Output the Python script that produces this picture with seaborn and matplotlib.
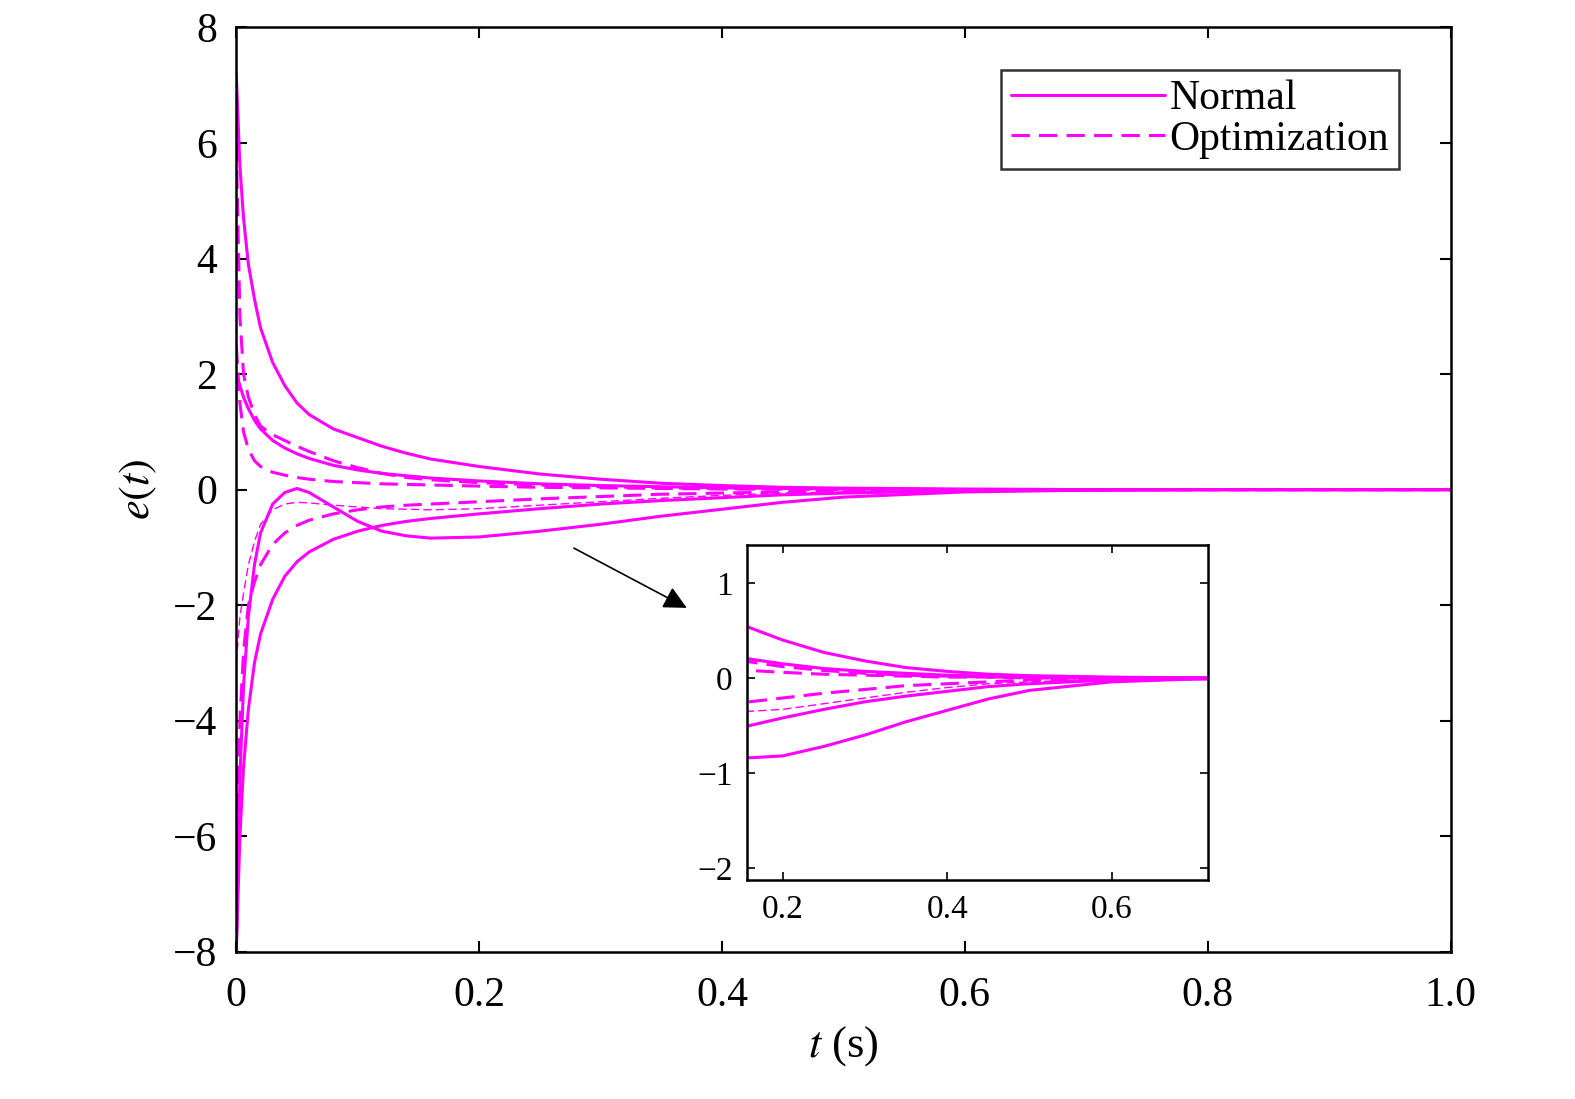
import matplotlib
matplotlib.use('Agg')
import matplotlib.pyplot as plt
import pandas as pd
import seaborn as sns
from matplotlib.lines import Line2D

# time samples (s) and hand-read error curves
t = [0, 0.003, 0.006, 0.01, 0.015, 0.02, 0.03, 0.04, 0.05, 0.06, 0.08, 0.1, 0.12, 0.14,
     0.16, 0.2, 0.25, 0.3, 0.35, 0.4, 0.45, 0.5, 0.6, 0.7, 0.8, 1.0]

normal_1 = [7.2, 5.6, 4.7, 3.9, 3.3, 2.8, 2.2, 1.8, 1.5, 1.3, 1.05, 0.9, 0.75, 0.63,
            0.53, 0.4, 0.27, 0.18, 0.11, 0.07, 0.04, 0.025, 0.01, 0.0, 0.0, 0.0]
normal_2 = [2.0, 1.8, 1.6, 1.4, 1.2, 1.05, 0.85, 0.72, 0.62, 0.54, 0.42, 0.34, 0.28, 0.24,
            0.2, 0.15, 0.1, 0.07, 0.05, 0.03, 0.02, 0.01, 0.0, 0.0, 0.0, 0.0]
normal_3 = [-8.0, -5.0, -3.4, -2.2, -1.3, -0.75, -0.25, -0.05, 0.02, -0.05, -0.3, -0.55, -0.72, -0.8,
            -0.84, -0.82, -0.72, -0.6, -0.46, -0.34, -0.22, -0.13, -0.04, -0.01, 0.0, 0.0]
normal_4 = [-8.0, -6.0, -4.8, -3.8, -3.0, -2.5, -1.9, -1.5, -1.25, -1.08, -0.86, -0.72, -0.62, -0.55,
            -0.5, -0.42, -0.33, -0.25, -0.19, -0.14, -0.09, -0.06, -0.02, -0.01, 0.0, 0.0]

opt_1 = [6.0, 3.0, 2.0, 1.6, 1.3, 1.1, 0.95, 0.85, 0.75, 0.66, 0.5, 0.38, 0.28, 0.21,
         0.17, 0.12, 0.08, 0.05, 0.03, 0.02, 0.01, 0.01, 0.0, 0.0, 0.0, 0.0]
opt_2 = [2.5, 1.5, 1.0, 0.7, 0.5, 0.4, 0.3, 0.25, 0.21, 0.18, 0.14, 0.12, 0.1, 0.09,
         0.08, 0.06, 0.04, 0.03, 0.02, 0.01, 0.01, 0.0, 0.0, 0.0, 0.0, 0.0]
opt_3 = [-7.0, -4.0, -2.8, -2.0, -1.6, -1.3, -0.95, -0.75, -0.62, -0.53, -0.42, -0.35, -0.3, -0.27,
         -0.25, -0.21, -0.16, -0.12, -0.08, -0.06, -0.04, -0.02, -0.01, 0.0, 0.0, 0.0]
opt_4 = [-3.0, -2.2, -1.8, -1.3, -0.9, -0.6, -0.35, -0.25, -0.22, -0.23, -0.27, -0.3, -0.33, -0.34,
         -0.35, -0.33, -0.27, -0.21, -0.15, -0.1, -0.06, -0.04, -0.01, 0.0, 0.0, 0.0]

MAGENTA = '#ff00ff'
series = [
    (normal_1, '-', 2.2), (normal_2, '-', 2.2), (normal_3, '-', 2.2), (normal_4, '-', 2.2),
    (opt_1, '--', 2.2), (opt_2, '--', 2.2), (opt_3, '--', 2.2), (opt_4, '--', 1.0),
]

sns.set_theme(style="ticks")
plt.rcParams['font.family'] = ['Liberation Serif', 'DejaVu Serif']
plt.rcParams['mathtext.fontset'] = 'stix'
for k in ['text.color', 'axes.labelcolor', 'xtick.color', 'ytick.color', 'axes.edgecolor']:
    plt.rcParams[k] = 'black'

fig = plt.figure(figsize=(15.75, 10.99), dpi=100)
ax = fig.add_axes([0.150, 0.134, 0.771, 0.841])
ins = fig.add_axes([0.474, 0.199, 0.293, 0.305])

def draw(axis):
    for vals, ls, lw in series:
        df = pd.DataFrame({'t': t, 'e': vals})
        line = sns.lineplot(data=df, x='t', y='e', ax=axis, color=MAGENTA,
                            linewidth=lw, sort=False, estimator=None).lines[-1]
        if ls == '--':
            line.set_dashes((6, 3))

draw(ax)
ax.set_xlim(0, 1)
ax.set_ylim(-8, 8)
ax.set_xticks([0, 0.2, 0.4, 0.6, 0.8, 1.0])
ax.set_xticklabels(['0', '0.2', '0.4', '0.6', '0.8', '1.0'])
ax.set_yticks(range(-8, 9, 2))
ax.set_yticklabels(['\u22128', '\u22126', '\u22124', '\u22122', '0', '2', '4', '6', '8'])
ax.tick_params(direction='in', labelsize=30, length=8, width=1.5, top=True, right=True)
ax.tick_params(axis='x', pad=18)
ax.tick_params(axis='y', pad=14)
for s in ax.spines.values():
    s.set_linewidth(1.8)
ax.set_xlabel(r'$t$ (s)', fontsize=32, labelpad=6)
ax.set_ylabel(r'$e(t)$', fontsize=32, labelpad=10)

handles = [Line2D([], [], color=MAGENTA, lw=2.2, ls='-'),
           Line2D([], [], color=MAGENTA, lw=2.2, dashes=(6, 3))]
leg = ax.legend(handles, ['Normal', 'Optimization'], loc='upper right', fontsize=30,
                frameon=True, fancybox=False, edgecolor='black', handlelength=3.7,
                handletextpad=0.1, borderpad=0.25, labelspacing=0.05,
                bbox_to_anchor=(0.975, 0.977))
leg.get_frame().set_linewidth(1.8)

ax.annotate('', xy=(0.373, -2.07), xytext=(0.276, -0.99),
            arrowprops=dict(arrowstyle='-|>', color='black', lw=1.2, mutation_scale=35))

draw(ins)
ins.set_xlim(0.156, 0.717)
ins.set_ylim(-2.13, 1.4)
ins.set_xticks([0.2, 0.4, 0.6])
ins.set_yticks([-2, -1, 0, 1])
ins.set_yticklabels(['\u22122', '\u22121', '0', '1'])
ins.tick_params(direction='in', labelsize=24, length=6, width=1.2, top=True, right=True, pad=10)
ins.set_xlabel('')
ins.set_ylabel('')
for s in ins.spines.values():
    s.set_linewidth(1.8)

fig.savefig('out.png', dpi=100)
